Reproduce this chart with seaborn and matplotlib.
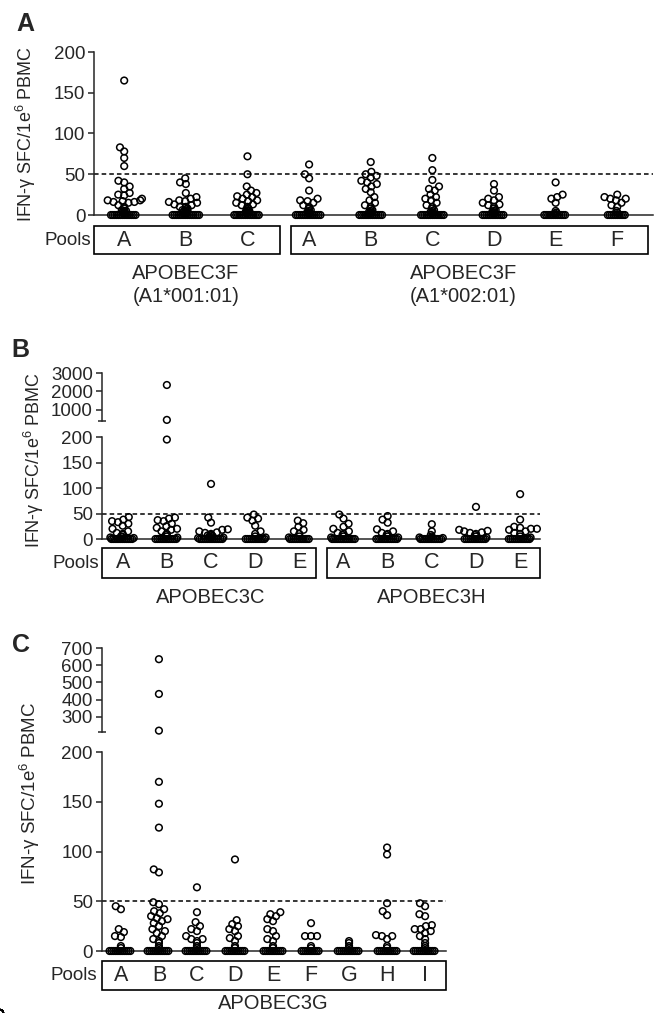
import pandas as pd
import matplotlib
matplotlib.use("Agg")
import matplotlib.pyplot as plt
from matplotlib.patches import Rectangle
from matplotlib.transforms import blended_transform_factory
import seaborn as sns
from seaborn import categorical as sns_cat

# ---- data (SFC per 1e6 PBMC) ----
# Panel A: APOBEC3F, two HLA groups
a_pools = ["A", "B", "C", "A", "B", "C", "D", "E", "F"]
a_f1_A = [165, 83, 78, 70, 60, 42, 40, 35, 32, 27, 25, 24, 20, 18, 18, 17, 16, 16, 15, 12, 10, 8, 6, 5, 5, 4, 3, 2,
          0, 0, 0, 0, 0, 0, 0, 0, 0, 0, 0, 0, 0, 0]
a_f1_B = [45, 40, 38, 27, 22, 20, 18, 17, 16, 15, 13, 12, 10, 10, 8, 7, 6, 5, 5, 4, 3, 2, 2,
          0, 0, 0, 0, 0, 0, 0, 0, 0, 0, 0, 0, 0, 0, 0]
a_f1_C = [72, 50, 35, 30, 27, 25, 23, 22, 20, 18, 17, 15, 13, 12, 10, 8, 7, 5, 5, 4, 3, 2,
          0, 0, 0, 0, 0, 0, 0, 0, 0, 0, 0, 0, 0, 0]
a_f2_A = [62, 50, 45, 30, 20, 18, 17, 15, 12, 10, 8, 6, 5, 4, 3, 2,
          0, 0, 0, 0, 0, 0, 0, 0, 0, 0, 0, 0, 0, 0]
a_f2_B = [65, 53, 50, 48, 46, 42, 40, 38, 35, 32, 28, 22, 18, 15, 12, 10, 8, 6, 5, 4, 3, 2,
          0, 0, 0, 0, 0, 0, 0, 0, 0, 0, 0, 0, 0]
a_f2_C = [70, 55, 43, 35, 32, 30, 25, 22, 20, 18, 15, 12, 10, 8, 6, 5, 4, 3, 2,
          0, 0, 0, 0, 0, 0, 0, 0, 0, 0, 0, 0, 0]
a_f2_D = [38, 30, 22, 20, 18, 15, 13, 12, 10, 8, 6, 5, 4, 3, 2,
          0, 0, 0, 0, 0, 0, 0, 0, 0, 0, 0, 0]
a_f2_E = [40, 25, 22, 20, 15, 5, 3, 2, 0, 0, 0, 0, 0, 0, 0, 0, 0, 0, 0, 0]
a_f2_F = [25, 22, 20, 20, 18, 15, 12, 10, 5, 3, 0, 0, 0, 0, 0, 0, 0, 0, 0, 0]

# Panel B: APOBEC3C and APOBEC3H
b_pools = ["A", "B", "C", "D", "E", "A", "B", "C", "D", "E"]
b_c_A = [43, 38, 35, 33, 30, 26, 20, 15, 12, 10, 8, 5, 4, 3, 2, 0, 0, 0, 0, 0, 0, 0, 0, 0, 0, 0, 0]
b_c_B = [2350, 460, 195, 42, 40, 37, 35, 30, 25, 22, 20, 18, 15, 10, 8, 5, 3,
         0, 0, 0, 0, 0, 0, 0, 0, 0, 0, 0, 0]
b_c_C = [108, 42, 32, 19, 18, 15, 13, 12, 10, 8, 7, 6, 5, 4, 3, 2,
         0, 0, 0, 0, 0, 0, 0, 0, 0, 0, 0, 0, 0]
b_c_D = [48, 42, 40, 36, 26, 15, 10, 5, 3, 0, 0, 0, 0, 0, 0, 0, 0, 0, 0, 0]
b_c_E = [36, 31, 24, 18, 15, 10, 5, 3, 0, 0, 0, 0, 0, 0, 0, 0, 0, 0, 0]
b_h_A = [48, 40, 30, 24, 20, 15, 12, 10, 8, 5, 3, 0, 0, 0, 0, 0, 0, 0, 0, 0, 0, 0, 0, 0]
b_h_B = [45, 38, 32, 19, 15, 12, 10, 8, 5, 3, 0, 0, 0, 0, 0, 0, 0, 0, 0, 0, 0, 0]
b_h_C = [29, 15, 8, 5, 3, 2, 0, 0, 0, 0, 0, 0, 0, 0, 0, 0, 0, 0]
b_h_D = [63, 18, 16, 15, 13, 12, 10, 8, 5, 3, 0, 0, 0, 0, 0, 0, 0, 0, 0, 0, 0, 0]
b_h_E = [88, 38, 24, 22, 20, 20, 18, 15, 12, 10, 5, 3, 0, 0, 0, 0, 0, 0, 0, 0, 0, 0, 0, 0]

# Panel C: APOBEC3G
c_pools = ["A", "B", "C", "D", "E", "F", "G", "H", "I"]
c_A = [45, 42, 22, 19, 15, 14, 5, 3, 0, 0, 0, 0, 0, 0, 0, 0, 0, 0, 0, 0]
c_B = [635, 433, 220, 170, 148, 124, 82, 79, 49, 47, 42, 40, 38, 35, 33, 32, 30, 28, 25, 22, 20, 18, 15, 12,
       10, 8, 5, 3, 0, 0, 0, 0, 0, 0, 0, 0, 0, 0, 0, 0]
c_C = [64, 39, 29, 25, 22, 20, 15, 12, 12, 10, 8, 5, 3, 0, 0, 0, 0, 0, 0, 0, 0, 0, 0, 0, 0]
c_D = [92, 31, 27, 25, 22, 20, 15, 13, 10, 5, 3, 0, 0, 0, 0, 0, 0, 0, 0, 0, 0, 0]
c_E = [39, 37, 35, 32, 30, 22, 20, 15, 12, 10, 5, 3, 0, 0, 0, 0, 0, 0, 0, 0, 0, 0, 0]
c_F = [28, 15, 15, 15, 5, 3, 0, 0, 0, 0, 0, 0, 0, 0, 0, 0]
c_G = [10, 8, 5, 3, 0, 0, 0, 0, 0, 0, 0, 0, 0, 0, 0, 0]
c_H = [104, 97, 48, 40, 36, 16, 15, 15, 12, 5, 3, 0, 0, 0, 0, 0, 0, 0, 0, 0, 0, 0]
c_I = [48, 45, 37, 35, 26, 25, 22, 22, 20, 18, 15, 12, 8, 5, 3, 0, 0, 0, 0, 0, 0, 0, 0, 0, 0, 0, 0]

threshold = 50
ylabel = "IFN-γ SFC/1e$^6$ PBMC"

# Prism-style scatter: let the swarm overlap and narrow it per panel
SWARM = {"width": 1.0, "overlap": 0.7}


class PrismSwarm(sns_cat.Beeswarm):
    def __init__(self, width=0.8, **kwargs):
        super().__init__(width=width * SWARM["width"], **kwargs)
        self.overlap = SWARM["overlap"]  # captured now, used at draw time

    def beeswarm(self, orig_xyr):
        xyr = orig_xyr.copy()
        xyr[:, 2] *= self.overlap
        return super().beeswarm(xyr)


sns_cat.Beeswarm = PrismSwarm

sns.set_style("ticks")
plt.rcParams["font.family"] = ["Liberation Sans", "DejaVu Sans"]
plt.rcParams["mathtext.fontset"] = "custom"
plt.rcParams["mathtext.rm"] = "Liberation Sans"
plt.rcParams["mathtext.it"] = "Liberation Sans:italic"
plt.rcParams["mathtext.bf"] = "Liberation Sans:bold"
plt.rcParams["axes.linewidth"] = 1.1

W, H = 658, 1013
fig = plt.figure(figsize=(W / 100, H / 100), dpi=100)


def fx(px):
    return px / W


def fy(py):
    return 1 - py / H


def make_ax(x0, x1, ytop, ybot):
    ax = fig.add_axes([fx(x0), fy(ybot), (x1 - x0) / W, (ybot - ytop) / H])
    ax.patch.set_alpha(0)
    return ax


def to_long(prefix, pools, groups):
    rows = []
    for i, (p, vals) in enumerate(zip(pools, groups)):
        for v in vals:
            rows.append((f"{prefix}{i}_{p}", v))
    df = pd.DataFrame(rows, columns=["pool", "sfc"])
    order = [f"{prefix}{i}_{p}" for i, p in enumerate(pools)]
    return df, order


def swarm(ax, df, order, lo, hi):
    sub = df[(df["sfc"] >= lo) & (df["sfc"] <= hi)]
    # the crowd of near-zero wells piles up tightly, the rest spreads out
    for part, overlap in ((sub[sub["sfc"] < 9], 0.22), (sub[sub["sfc"] >= 9], 0.7)):
        if part.empty:
            continue
        SWARM["overlap"] = overlap
        sns.swarmplot(data=part, x="pool", y="sfc", order=order, ax=ax, size=4.8,
                      color="black", edgecolor="black", linewidth=1.1,
                      warn_thresh=1.0, clip_on=False)
    for c in ax.collections:
        c.set_facecolor("none")
        c.set_edgecolor("black")
        c.set_linewidth(1.1)
    ax.set_xlabel("")
    ax.set_ylabel("")


def style_lower(ax, xlim, n):
    ax.set_xlim(*xlim)
    ax.set_ylim(0, 200)
    ax.set_yticks([0, 50, 100, 150, 200])
    ax.set_xticks(range(n))
    ax.set_xticklabels([])
    ax.tick_params(axis="x", length=3, width=1.1, direction="out")
    ax.tick_params(axis="y", length=4.3, width=1.1, pad=2, labelsize=13.5)
    ax.axhline(threshold, color="black", lw=1.1, ls=(0, (3, 2)), zorder=1)
    sns.despine(ax=ax)


def style_upper(ax, xlim, ylim, ticks):
    ax.set_xlim(*xlim)
    ax.set_ylim(*ylim)
    ax.set_yticks(ticks)
    ax.set_yticks([ylim[0]], minor=True)
    ax.set_xticks([])
    ax.tick_params(axis="y", length=4.3, width=1.1, pad=2, labelsize=13.5)
    ax.tick_params(axis="y", which="minor", direction="inout", length=6, width=1.1)
    sns.despine(ax=ax, bottom=True)


def pools_row(ax, labels, boxes, ytop, ybot, pools_right, groups):
    tr = blended_transform_factory(ax.transData, fig.transFigure)
    yc = (ytop + ybot) / 2
    for x0, x1 in boxes:
        fig.add_artist(Rectangle((fx(x0), fy(ybot)), (x1 - x0) / W, (ybot - ytop) / H,
                                 transform=fig.transFigure, fill=False, lw=1.2, ec="black"))
    for i, lab in enumerate(labels):
        ax.text(i, fy(yc), lab, transform=tr, ha="center", va="center", fontsize=15.5)
    fig.text(fx(pools_right), fy(yc), "Pools", ha="right", va="center", fontsize=13.5)
    for xpos, ypx, text in groups:
        ax.text(xpos, fy(ypx), text, transform=tr, ha="center", va="center", fontsize=14.5)


# ---- Panel A ----
dfA, orderA = to_long("a", a_pools, [a_f1_A, a_f1_B, a_f1_C, a_f2_A, a_f2_B, a_f2_C, a_f2_D, a_f2_E, a_f2_F])
axA = make_ax(94, 653, 52, 215)
SWARM["width"] = 0.72
swarm(axA, dfA, orderA, 0, 200)
style_lower(axA, (-0.49, 8.58), len(a_pools))
pools_row(axA, a_pools, [(94, 280), (291, 648)], 226, 254, 91,
          [(1, 273, "APOBEC3F"), (1, 297, "(A1*001:01)"),
           (5.5, 273, "APOBEC3F"), (5.5, 297, "(A1*002:01)")])
fig.text(fx(26), fy(134), ylabel, rotation=90, ha="center", va="center", fontsize=13)
fig.text(fx(25), fy(24), "A", ha="center", va="center", fontsize=18, fontweight="bold")

# ---- Panel B ----
dfB, orderB = to_long("b", b_pools, [b_c_A, b_c_B, b_c_C, b_c_D, b_c_E, b_h_A, b_h_B, b_h_C, b_h_D, b_h_E])
xlimB = (-0.48, 9.45)
axB_top = make_ax(101.5, 540, 373, 421)
axB = make_ax(101.5, 540, 437, 539)
SWARM["width"] = 0.95
swarm(axB_top, dfB, orderB, 400, 3000)
swarm(axB, dfB, orderB, 0, 200)
style_upper(axB_top, xlimB, (400, 3000), [1000, 2000, 3000])
style_lower(axB, xlimB, len(b_pools))
axB.set_yticks([200], minor=True)
axB.tick_params(axis="y", which="minor", direction="inout", length=6, width=1.1)
pools_row(axB, b_pools, [(101.5, 316), (327, 540)], 548, 578, 99,
          [(2, 597, "APOBEC3C"), (7, 597, "APOBEC3H")])
fig.text(fx(34), fy(460), ylabel, rotation=90, ha="center", va="center", fontsize=13)
fig.text(fx(20), fy(350), "B", ha="center", va="center", fontsize=18, fontweight="bold")

# ---- Panel C ----
dfC, orderC = to_long("c", c_pools, [c_A, c_B, c_C, c_D, c_E, c_F, c_G, c_H, c_I])
xlimC = (-0.51, 8.55)
axC_top = make_ax(101.5, 446, 648, 732)
axC = make_ax(101.5, 446, 752, 951)
SWARM["width"] = 0.95
swarm(axC_top, dfC, orderC, 212, 700)
swarm(axC, dfC, orderC, 0, 200)
style_upper(axC_top, xlimC, (212, 700), [300, 400, 500, 600, 700])
style_lower(axC, xlimC, len(c_pools))
axC.set_yticks([200], minor=True)
axC.tick_params(axis="y", which="minor", direction="inout", length=6, width=1.1)
pools_row(axC, c_pools, [(101.5, 446)], 961, 990, 97,
          [(4, 1003, "APOBEC3G")])
fig.text(fx(30), fy(793), ylabel, rotation=90, ha="center", va="center", fontsize=13.5)
fig.text(fx(21), fy(645), "C", ha="center", va="center", fontsize=18, fontweight="bold")

fig.savefig("out.png", dpi=100)
plt.close(fig)
